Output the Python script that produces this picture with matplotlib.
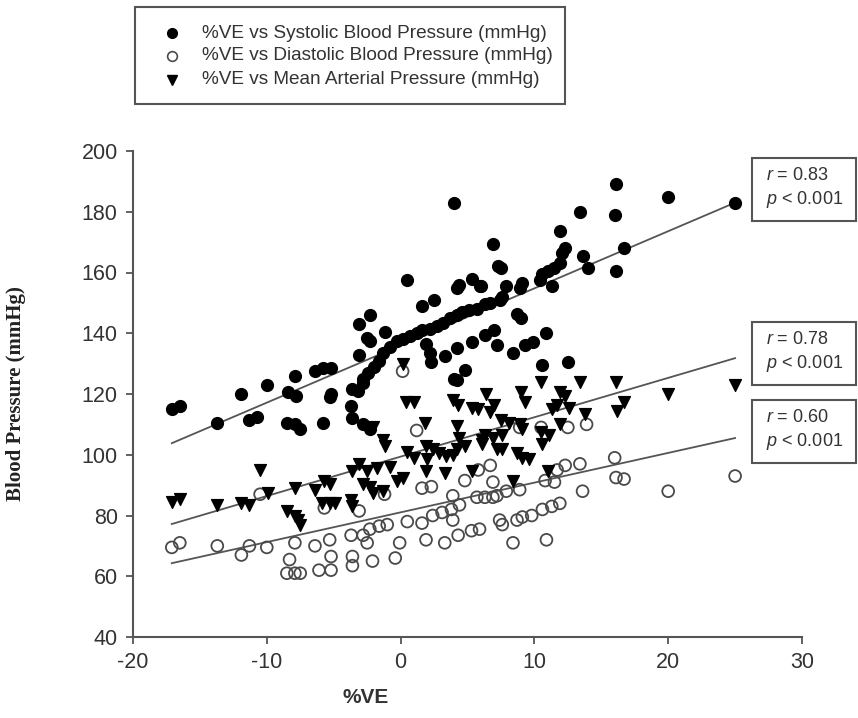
import numpy as np
import matplotlib
matplotlib.use("Agg")
import matplotlib.pyplot as plt
from matplotlib.patches import Rectangle
from matplotlib.lines import Line2D

plt.rcParams["font.family"] = ["Liberation Sans", "DejaVu Sans"]
plt.rcParams["mathtext.fontset"] = "custom"
plt.rcParams["mathtext.it"] = "Liberation Sans:italic"
plt.rcParams["mathtext.rm"] = "Liberation Sans"
plt.rcParams["axes.unicode_minus"] = False

# %VE vs systolic blood pressure (mmHg)
sys_x = [-17.1, -16.5, -13.7, -11.9, -11.3, -10.7, -10.0, -8.5, -8.4, -7.8, -7.9, -7.5,
         -7.9, -6.4, -5.8, -5.2, -5.8, -5.3, -5.2, -3.7, -3.6, -2.8, -2.3, -3.6, -2.8,
         -3.1, -3.1, -2.3, -2.5, -2.3, -1.2,
         -3.2, -2.8, -2.4, -2.0, -1.6, -1.3, -0.8, -0.3, 0.2, 0.7, 1.2, 1.6, 2.2, 2.7,
         3.2, 3.7, 4.2, 4.6, 5.1, 5.7, 6.3, 6.7, 7.4,
         0.45, 4.0, 1.6, 2.5, 4.2, 4.4, 5.3, 5.9, 6.9, 7.3, 1.9, 2.2, 2.3, 3.3, 4.2, 5.3,
         6.3, 7.0, 7.2, 8.4, 4.0, 4.8, 4.2,
         16.1, 20.0, 25.0, 13.4, 16.0, 11.9, 12.3, 12.1, 16.7, 13.6, 14.0, 16.1, 7.5,
         11.9, 11.5, 11.0, 10.6, 10.4, 11.3, 9.1, 8.9, 7.9, 6.0, 7.6, 8.7, 9.0, 9.3,
         9.9, 10.9, 10.6, 12.5]
sys_y = [115, 116, 110.5, 120, 111.5, 112.5, 123, 110.5, 120.5, 119.5, 110, 108.5,
         126, 127.5, 128.5, 128.5, 110.5, 119, 120, 116, 112, 110, 108.5, 121.5, 123.5,
         133, 143, 146, 138.5, 137.5, 140.5,
         121, 125, 127, 129, 131, 133.5, 135.5, 137.5, 138, 139, 140, 141, 141.5, 142.5,
         143.5, 145, 146, 147, 147.5, 148, 149.5, 150, 151,
         157.5, 183, 149, 151, 155, 156, 158, 155.5, 169.5, 162, 136.5, 133.5, 130.5,
         132.5, 135, 137, 139.3, 141, 136, 133.4, 125, 128, 124.5,
         189, 185, 183, 180, 179, 173.5, 168, 166.5, 168, 165.5, 161.5, 160.5, 161.5,
         163, 161.5, 160.5, 159.5, 157.5, 155.5, 156.5, 155, 155.5, 155.5, 152, 146.5,
         145, 136, 137, 140, 129.5, 130.5]

# %VE vs diastolic blood pressure (mmHg)
dia_x = [-17.1, -16.5, -13.7, -11.9, -11.3, -10.5, -10.0, -7.9, -8.3, -8.5, -7.9, -7.5,
         -6.4, -5.3, -6.1, -5.2, -5.2, -5.7, -3.7, -3.6, -3.6, -3.1, -2.5, -2.1, -2.8,
         -2.3, -1.6, -1.0, -1.2, -0.4, -0.07, 0.5, 1.2, 1.6, 2.3, 1.9, 1.6, 2.4, 3.1,
         3.8, 4.4, 3.3, 4.3, 5.3, 3.9, 3.9, 4.8, 5.8, 6.7, 5.7, 6.3, 6.9, 6.9, 0.15,
         12.5, 13.9, 10.5, 8.9, 12.3, 13.4, 11.7, 16.0, 16.1, 16.7, 25.0, 20.0, 13.6,
         10.8, 11.5, 8.9, 7.9, 7.2, 11.9, 11.3, 10.6, 9.8, 9.1, 8.7, 7.6, 7.4, 8.4,
         10.9, 5.9]
dia_y = [69.5, 71, 70, 67, 70, 87, 69.5, 71, 65.5, 61, 61, 61,
         70, 72, 62, 62, 66.5, 82.5, 73.5, 66.5, 63.5, 81.5, 71, 65, 73.5,
         75.5, 76.5, 77, 87, 66, 71, 78, 108, 89, 89.5, 72, 77.5, 80, 81,
         82, 83.5, 71, 73.5, 75, 78.5, 86.5, 91.5, 95, 96.5, 86, 86, 86, 91, 127.5,
         109, 110, 109, 109, 96.5, 97, 95, 99, 92.5, 92, 93, 88, 88,
         91.5, 91, 88.5, 88, 86.5, 84, 83, 82, 80, 79.5, 78.5, 77, 78.5, 71,
         72, 75.5]

# %VE vs mean arterial pressure (mmHg)
map_x = [-17.1, -16.5, -13.7, -11.9, -11.3, -10.5, -9.9, -7.9, -6.4, -5.7, -5.3, -8.5,
         -7.9, -7.7, -7.5, -5.9, -5.3, -4.9, -3.7, -3.6, -3.6, -3.1, -2.5, -2.8, -2.3,
         -2.1, -1.3, -1.2, -1.8, -0.8, -0.3, 0.15, 0.4, 1.0, 1.8, -2.1, -1.3, 0.15,
         3.9, 4.3, 5.3, 5.8, 6.4, 7.0, 6.7, 7.5, 8.1, 9.0, 9.1, 4.2, 4.4, 4.8, 4.2,
         1.9, 2.4, 2.9, 3.4, 3.9, 1.9, 3.3, 5.3, 6.1, 6.9, 7.2,
         9.3, 11.9, 12.3, 12.6, 11.3, 11.7, 10.5, 13.4, 16.1, 20.0, 25.0, 16.2, 16.7,
         13.75, 8.9, 6.3, 7.6, 6.1, 7.6, 8.7, 9.1, 9.6, 10.5, 11.1, 11.9, 10.6, 8.4,
         11.0, 0.5, 1.0, 2.0]
map_y = [84.5, 85.5, 83.5, 84, 83.5, 95, 87.5, 89, 88.5, 91.5, 90.5, 81.5,
         80, 78.5, 77, 84, 84, 84, 85, 83, 94.5, 97, 94.5, 90.5, 89.5,
         87.5, 88, 103, 95.5, 96, 91.5, 92.5, 117.5, 117.5, 110.5, 109, 105, 130,
         118, 116.5, 115.5, 115, 120, 116.5, 114, 111.5, 110.5, 120.5, 108.5, 109.5,
         105.5, 103, 102, 103, 102, 100.5, 99.5, 100, 94.5, 94, 94.5, 105, 105.5, 102,
         117.5, 120.5, 119.5, 115.5, 115, 116.5, 124, 124, 124, 120, 123, 114.5, 117.5,
         113.5, 110, 106.5, 106.5, 103.5, 102, 100.5, 99, 98.5, 107.5, 106.5, 110,
         103.5, 91.5, 94.5, 101, 99, 98.5]

# regression lines (end points)
fit_x = [-17.1, 25.0]
sys_fit = [103.8, 183.0]
map_fit = [77.2, 131.8]
dia_fit = [64.3, 105.5]

series_labels = ["%VE vs Systolic Blood Pressure (mmHg)",
                 "%VE vs Diastolic Blood Pressure (mmHg)",
                 "%VE vs Mean Arterial Pressure (mmHg)"]
stats_labels = [("0.83", "0.001"), ("0.78", "0.001"), ("0.60", "0.001")]

W, H = 858, 718
fig = plt.figure(figsize=(W / 100, H / 100), dpi=100)
ax = fig.add_axes([133 / W, 1 - 637 / H, 669 / W, 486 / H])

line_col = "#555555"
text_col = "#333333"
for fy in (sys_fit, map_fit, dia_fit):
    ax.plot(fit_x, fy, color=line_col, lw=1.3, zorder=1)

ax.scatter(sys_x, sys_y, s=72, marker="o", color="black", zorder=3)
ax.scatter(dia_x, dia_y, s=72, marker="o", facecolors="none",
           edgecolors="#4a4a4a", linewidths=1.3, zorder=2)
ax.scatter(map_x, map_y, s=72, marker="v", color="black", zorder=3)

ax.set_xlim(-20, 30)
ax.set_ylim(40, 200)
ax.set_xticks(np.arange(-20, 31, 10))
ax.set_yticks(np.arange(40, 201, 20))
for s in ("top", "right"):
    ax.spines[s].set_visible(False)
for s in ("left", "bottom"):
    ax.spines[s].set_color(line_col)
    ax.spines[s].set_linewidth(1.5)
ax.tick_params(direction="out", length=5, width=1.3, color=line_col,
               labelsize=15.5, labelcolor=text_col, pad=6)

ax.set_xlabel("%VE", fontsize=15, fontweight="bold", color=text_col)
ax.xaxis.set_label_coords(0.347, -0.105)
ax.set_ylabel("Blood Pressure (mmHg)", fontsize=15, fontweight="bold",
              family="Liberation Serif", color="#222222")
ax.yaxis.set_label_coords(-0.16, 0.5)

# legend box above the plot
fig.patches.append(Rectangle((135 / W, 1 - 104 / H), 430 / W, 97 / H,
                             transform=fig.transFigure, fill=False,
                             edgecolor=line_col, lw=1.5))
legend_rows = [33, 56, 80]
legend_marks = [dict(marker="o", color="black", markersize=7),
                dict(marker="o", markerfacecolor="none", markeredgecolor="#4a4a4a",
                     markeredgewidth=1.2, markersize=7),
                dict(marker="v", color="black", markersize=7.5)]
for label, row, mk in zip(series_labels, legend_rows, legend_marks):
    fig.add_artist(Line2D([172 / W], [1 - row / H], linestyle="none",
                          transform=fig.transFigure, **mk))
    fig.text(202 / W, 1 - row / H, label, fontsize=13.7, color=text_col,
             va="center")

# r / p boxes next to the line ends
box_tops = [158, 322, 400]
for (r, p), top in zip(stats_labels, box_tops):
    x0, x1 = 752 / W, 856 / W
    y1 = 1 - top / H
    y0 = 1 - (top + 63) / H
    fig.patches.append(Rectangle((x0, y0), x1 - x0, y1 - y0, transform=fig.transFigure,
                                 fill=False, edgecolor=line_col, lw=1.5))
    fig.text(766 / W, 1 - (top + 18) / H, "$r$ = " + r, fontsize=13,
             color=text_col, va="center")
    fig.text(766 / W, 1 - (top + 42) / H, "$p$ < " + p, fontsize=13,
             color=text_col, va="center")

fig.savefig("out.png", dpi=100)
